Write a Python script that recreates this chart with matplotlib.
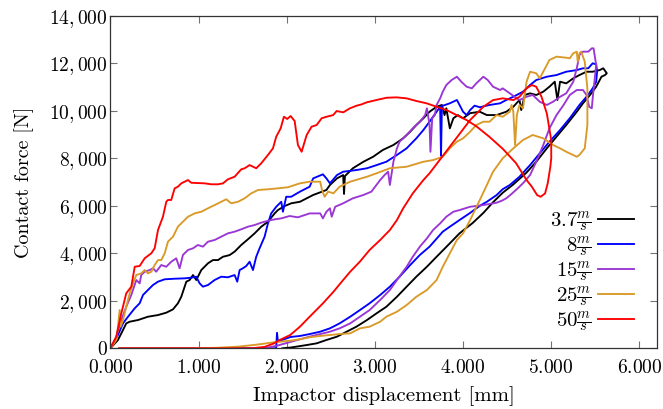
import matplotlib
matplotlib.use("Agg")
import matplotlib.pyplot as plt
from matplotlib.ticker import FuncFormatter, MultipleLocator

# Computer Modern look (pgfplots style)
plt.rcParams['font.family'] = 'serif'
plt.rcParams['font.serif'] = ['cmr10']
plt.rcParams['mathtext.fontset'] = 'cm'
plt.rcParams['axes.unicode_minus'] = False
plt.rcParams['font.size'] = 14

# --- data (displacement in mm, force in N) ---
labels = [r'$3.7\frac{m}{s}$', r'$8\frac{m}{s}$', r'$15\frac{m}{s}$',
          r'$25\frac{m}{s}$', r'$50\frac{m}{s}$']
colors = ['#000000', '#0000ff', '#9a36d4', '#d99a28', '#ff0000']

x_37 = [0, 0.086, 0.143, 0.18, 0.219, 0.313, 0.426, 0.54, 0.634, 0.71, 0.766, 0.804, 0.861,
        0.899, 0.937, 0.974, 1.031, 1.107, 1.163, 1.22, 1.277, 1.352, 1.409, 1.484, 1.56,
        1.636, 1.711, 1.787, 1.863, 1.90, 1.976, 2.051, 2.15, 2.30, 2.45, 2.49, 2.57, 2.64,
        2.65, 2.66, 2.75, 2.87, 2.98, 3.09, 3.21, 3.32, 3.40, 3.47, 3.55, 3.62, 3.70, 3.76,
        3.79, 3.81, 3.85, 3.89, 3.94, 4.0, 4.08, 4.19, 4.27, 4.38, 4.49, 4.57, 4.64, 4.66,
        4.70, 4.76, 4.83, 4.91, 4.98, 5.04, 5.07, 5.10, 5.17, 5.25, 5.32, 5.40, 5.47, 5.55,
        5.59, 5.63, 5.61, 5.57, 5.51, 5.44, 5.36, 5.29, 5.17, 5.06, 4.95, 4.83, 4.72, 4.57,
        4.45, 4.34, 4.23, 4.11, 3.96, 3.85, 3.70, 3.59, 3.47, 3.36, 3.25, 3.13, 3.02, 2.91,
        2.79, 2.68, 2.57, 2.45, 2.34, 2.23, 2.11, 2.04, 1.95]
y_37 = [0, 350, 770, 1050, 1120, 1190, 1330, 1400, 1500, 1640, 1895, 2170, 2805,
        2875, 3085, 2875, 3295, 3580, 3715, 3715, 3855, 3925, 4070, 4350, 4590,
        4840, 5120, 5330, 5680, 5820, 5990, 6105, 6170, 6455, 6665, 6875, 7155, 7295,
        6500, 7250, 7580, 7855, 8065, 8350, 8560, 8840, 9120, 9400, 9685, 9960, 10170, 10245,
        9820, 10105, 9260, 9685, 9820, 9685, 9900, 9960, 9820, 9820, 9960, 10170, 10455, 10030,
        10665, 10735, 10665, 10805, 11015, 11225, 10455, 11225, 11155, 11365, 11505, 11645, 11645, 11715,
        11790, 11580, 11505, 11435, 11015, 10665, 10315, 9960, 9400, 8910, 8420, 7855, 7400, 6900,
        6550, 6150, 5700, 5280, 4840, 4420, 3855, 3435, 3015, 2595, 2170, 1750, 1475, 1190,
        910, 700, 490, 350, 210, 140, 70, 30, 0]

x_8 = [0, 0.086, 0.143, 0.20, 0.276, 0.332, 0.37, 0.426, 0.483, 0.54, 0.616, 0.729, 0.842,
       0.917, 0.974, 1.012, 1.05, 1.107, 1.182, 1.258, 1.333, 1.409, 1.439, 1.466, 1.503,
       1.541, 1.579, 1.617, 1.654, 1.692, 1.749, 1.787, 1.824, 1.881, 1.938, 1.957, 1.994,
       2.05, 2.15, 2.26, 2.30, 2.41, 2.45, 2.49, 2.57, 2.64, 2.79, 2.91, 3.02, 3.13, 3.25,
       3.36, 3.47, 3.55, 3.62, 3.70, 3.74, 3.75, 3.76, 3.85, 3.93, 3.96, 4.0, 4.04, 4.08,
       4.13, 4.19, 4.30, 4.42, 4.49, 4.57, 4.68, 4.76, 4.83, 4.95, 5.06, 5.17, 5.29, 5.36,
       5.42, 5.47, 5.51, 5.52, 5.51, 5.47, 5.40, 5.32, 5.21, 5.10, 4.98, 4.87, 4.76, 4.64,
       4.53, 4.45, 4.38, 4.27, 4.19, 4.08, 3.96, 3.85, 3.77, 3.62, 3.51, 3.40, 3.28, 3.17,
       3.06, 2.94, 2.83, 2.72, 2.60, 2.49, 2.38, 2.26, 2.15, 2.04, 1.95, 1.90, 1.89, 1.88, 0.1]
y_8 = [0, 560, 1050, 1330, 1685, 1895, 2245, 2455, 2665, 2805, 2905, 2930, 2945,
       2975, 3015, 2735, 2595, 2665, 2875, 3015, 2990, 3085, 2805, 3295, 3370,
       3465, 3645, 3295, 3855, 4210, 4700, 5260, 5680, 5960, 6170, 5750, 6380,
       6380, 6595, 6805, 7155, 7325, 7155, 6945, 7295, 7435, 7505, 7580, 7715, 7855, 8140,
       8420, 8840, 9190, 9540, 9960, 10170, 8100, 10200, 10315, 10455, 10245, 9960, 9820, 10030,
       10215, 10150, 10245, 10315, 10455, 10590, 10805, 11085, 11295, 11435, 11505, 11645, 11715, 11790,
       11790, 12000, 11955, 11645, 11225, 10945, 10590, 10245, 9685, 9190, 8700, 8210, 7715, 7225,
       6875, 6700, 6450, 6170, 6000, 5700, 5400, 5120, 4910, 4280, 3930, 3505, 3015, 2595,
       2245, 1895, 1610, 1330, 1050, 840, 700, 600, 520, 475, 350, 300, 650, 0, 0]

x_15 = [0, 0.067, 0.124, 0.18, 0.237, 0.294, 0.332, 0.35, 0.389, 0.446, 0.483, 0.52, 0.577,
        0.634, 0.69, 0.747, 0.785, 0.823, 0.88, 0.937, 0.993, 1.05, 1.107, 1.182, 1.258,
        1.333, 1.409, 1.484, 1.56, 1.636, 1.711, 1.787, 1.863, 1.938, 2.033, 2.127, 2.26,
        2.38, 2.41, 2.45, 2.49, 2.51, 2.55, 2.64, 2.75, 2.87, 2.96, 3.06, 3.11, 3.15, 3.17,
        3.21, 3.25, 3.28, 3.36, 3.43, 3.51, 3.57, 3.59, 3.62, 3.63, 3.65, 3.68, 3.70, 3.74,
        3.77, 3.81, 3.87, 3.93, 3.98, 4.04, 4.10, 4.15, 4.23, 4.28, 4.34, 4.42, 4.45, 4.53,
        4.61, 4.64, 4.72, 4.79, 4.87, 4.95, 5.02, 5.10, 5.17, 5.25, 5.29, 5.32, 5.36, 5.42,
        5.46, 5.48, 5.51, 5.49, 5.47, 5.46, 5.43, 5.40, 5.36, 5.29, 5.21, 5.14, 5.06, 4.98,
        4.91, 4.83, 4.76, 4.68, 4.61, 4.55, 4.49, 4.44, 4.38, 4.30, 4.23, 4.15, 4.08, 3.96,
        3.89, 3.81, 3.74, 3.66, 3.59, 3.51, 3.43, 3.36, 3.25, 3.17, 3.06, 2.94, 2.83, 2.72,
        2.60, 2.49, 2.38, 2.26, 2.15, 2.04, 1.90, 1.75, 0.1]
y_15 = [0, 490, 1190, 1750, 2245, 2875, 2735, 3085, 3225, 3295, 3370, 3225, 3505,
        3435, 3645, 3790, 3370, 3930, 4140, 4210, 4350, 4280, 4490, 4560, 4700,
        4840, 4910, 5010, 5120, 5190, 5290, 5370, 5430, 5470, 5570, 5515, 5680,
        5680, 5470, 5750, 5895, 5540, 5960, 6105, 6315, 6455, 6595, 7085, 7295, 7435, 6875,
        7855, 8420, 8700, 8980, 9260, 9540, 9820, 10105, 9400, 8275, 9685, 9820, 10245, 10525,
        10805, 11085, 11295, 11435, 11225, 11015, 10945, 11155, 11435, 11295, 11015, 10875, 10945, 10735,
        10525, 10455, 10590, 10665, 10380, 10245, 10380, 10590, 10735, 11225, 11790, 12350, 12490, 12490,
        12630, 12630, 11925, 11225, 10525, 10105, 10170, 10665, 10875, 10875, 10665, 10245, 9820, 9260,
        8560, 7855, 7295, 6950, 6700, 6500, 6315, 6215, 6130, 6075, 6030, 5990, 5960, 5820,
        5750, 5540, 5260, 4980, 4630, 4280, 3855, 3435, 2875, 2455, 2035, 1610, 1330, 1050,
        840, 700, 600, 490, 380, 265, 120, 0, 0]

x_25 = [0, 0.067, 0.086, 0.105, 0.117, 0.143, 0.18, 0.219, 0.256, 0.294, 0.35, 0.389, 0.426,
        0.464, 0.502, 0.54, 0.577, 0.616, 0.653, 0.71, 0.766, 0.823, 0.88, 0.956, 1.031,
        1.107, 1.182, 1.258, 1.314, 1.371, 1.447, 1.523, 1.598, 1.674, 1.787, 1.90, 2.013,
        2.15, 2.26, 2.38, 2.40, 2.43, 2.47, 2.53, 2.60, 2.72, 2.91, 3.02, 3.17, 3.36, 3.55,
        3.66, 3.77, 3.85, 3.93, 4.0, 4.08, 4.15, 4.23, 4.30, 4.38, 4.45, 4.53, 4.55, 4.57,
        4.59, 4.61, 4.64, 4.68, 4.72, 4.76, 4.83, 4.87, 4.93, 4.98, 5.06, 5.17, 5.21, 5.25,
        5.29, 5.30, 5.32, 5.34, 5.38, 5.41, 5.41, 5.38, 5.32, 5.29, 5.17, 5.10, 5.02, 4.91,
        4.79, 4.68, 4.57, 4.45, 4.34, 4.27, 4.19, 4.08, 4.0, 3.93, 3.85, 3.77, 3.70, 3.59,
        3.47, 3.36, 3.25, 3.13, 3.06, 2.94, 2.83, 2.72, 2.60, 2.49, 2.38, 2.26, 2.15, 2.04,
        1.85, 1.65, 1.45, 1.2, 0.9, 0.1]
y_25 = [0, 350, 910, 1610, 910, 1190, 1750, 2315, 2735, 3085, 3155, 3295, 3155,
        3225, 3505, 3715, 3715, 4000, 4490, 4700, 5120, 5330, 5540, 5680, 5750,
        5895, 6030, 6170, 6275, 6105, 6170, 6315, 6525, 6665, 6695, 6735, 6780,
        6945, 7015, 7015, 6665, 6380, 6595, 6525, 6805, 7015, 7225, 7370, 7580, 7645, 7855,
        7925, 8065, 8420, 8700, 8840, 9120, 9400, 9540, 9540, 9820, 9750, 9960, 10245, 9960,
        8560, 9820, 10245, 10105, 11225, 11645, 11580, 11365, 11790, 12140, 12280, 12235, 12210, 12420,
        12490, 12070, 12420, 12490, 12070, 10945, 9400, 8420, 8140, 8065, 8275, 8420, 8560, 8840,
        8980, 8770, 8420, 8000, 7435, 6875, 6245, 5400, 4840, 4560, 4000, 3435, 2875, 2455,
        2170, 1820, 1540, 1330, 1120, 910, 840, 630, 600, 560, 520, 465, 380, 320,
        250, 150, 70, 20, 0, 0]

x_50 = [0, 0.067, 0.124, 0.18, 0.237, 0.276, 0.332, 0.389, 0.464, 0.502, 0.54, 0.596, 0.634,
        0.653, 0.69, 0.729, 0.766, 0.804, 0.88, 0.917, 1.069, 1.144, 1.22, 1.277, 1.333,
        1.409, 1.484, 1.523, 1.579, 1.654, 1.711, 1.787, 1.844, 1.881, 1.931, 1.968, 2.006,
        2.044, 2.09, 2.127, 2.169, 2.226, 2.282, 2.339, 2.396, 2.452, 2.527, 2.566, 2.641,
        2.717, 2.793, 2.849, 2.906, 3.019, 3.133, 3.246, 3.359, 3.473, 3.586, 3.70, 3.813,
        3.926, 4.04, 4.15, 4.30, 4.45, 4.60, 4.72, 4.78, 4.84, 4.88, 4.93, 4.96, 4.99, 5.0,
        5.0, 4.95, 4.89, 4.83, 4.78, 4.72, 4.64, 4.57, 4.45, 4.34, 4.23, 4.08, 3.85, 3.62,
        3.55, 3.43, 3.32, 3.25, 3.17, 3.06, 2.94, 2.83, 2.72, 2.64, 2.53, 2.41, 2.26, 2.15,
        2.04, 1.92, 1.85, 1.75, 1.6, 0.1]
y_50 = [0, 490, 1475, 2315, 2595, 3435, 3465, 3790, 4000, 4210, 4980, 5540, 6170,
        6245, 6245, 6735, 6805, 6945, 7085, 6970, 6945, 6905, 6905, 6945, 7115,
        7225, 7535, 7580, 7715, 7580, 7790, 8140, 8420, 8910, 9260, 9750, 9655,
        9780, 9570, 8560, 8275, 8980, 9330, 9400, 9685, 9750, 9820, 9990, 9935,
        10105, 10215, 10270, 10355, 10455, 10550, 10565, 10525, 10410, 10315, 10170, 10030,
        9820, 9610, 9350, 8900, 8400, 7800, 7085, 6805, 6450, 6380, 6520, 6945, 7645, 8000,
        8770, 9890, 10590, 11010, 11085, 10945, 10590, 10450, 10525, 10450, 10170, 9610, 8490, 7370,
        7085, 6525, 5890, 5400, 4980, 4560, 4140, 3650, 3225, 2875, 2380, 1890, 1330, 910,
        560, 350, 200, 60, 0, 0]

series_x = [x_37, x_8, x_15, x_25, x_50]
series_y = [y_37, y_8, y_15, y_25, y_50]

fig = plt.figure(figsize=(6.63, 4.09), dpi=100)
ax = fig.add_axes([0.1665, 0.1484, 0.8245, 0.813])

for xs, ys, c, lab in zip(series_x, series_y, colors, labels):
    ax.plot(xs, ys, color=c, linewidth=1.35, label=lab)

ax.set_xlim(0, 6.2)
ax.set_ylim(0, 14000)
ax.xaxis.set_major_locator(MultipleLocator(1))
ax.yaxis.set_major_locator(MultipleLocator(2000))
# mathtext labels: TeX-like spacing after the thousands comma
ax.xaxis.set_major_formatter(FuncFormatter(lambda v, p: f"${v:.3f}$"))
ax.yaxis.set_major_formatter(FuncFormatter(lambda v, p: f"${v:,.0f}$"))
ax.tick_params(direction='in', top=True, right=True, length=5, width=0.8,
               color='0.45', labelsize=14)
ax.tick_params(axis='y', pad=2)
ax.tick_params(axis='x', pad=8)
for s in ax.spines.values():
    s.set_linewidth(0.9)
    s.set_color('0.2')

ax.set_xlabel('Impactor displacement [mm]', fontsize=15, labelpad=6)
ax.set_ylabel('Contact force [N]', fontsize=14.5, labelpad=11)

ax.legend(loc='lower right', bbox_to_anchor=(0.985, 0.0), frameon=False,
          markerfirst=False, handlelength=1.75, handletextpad=0.3,
          labelspacing=0.02, fontsize=15, borderaxespad=0.3)

fig.savefig('out.png', dpi=100)
